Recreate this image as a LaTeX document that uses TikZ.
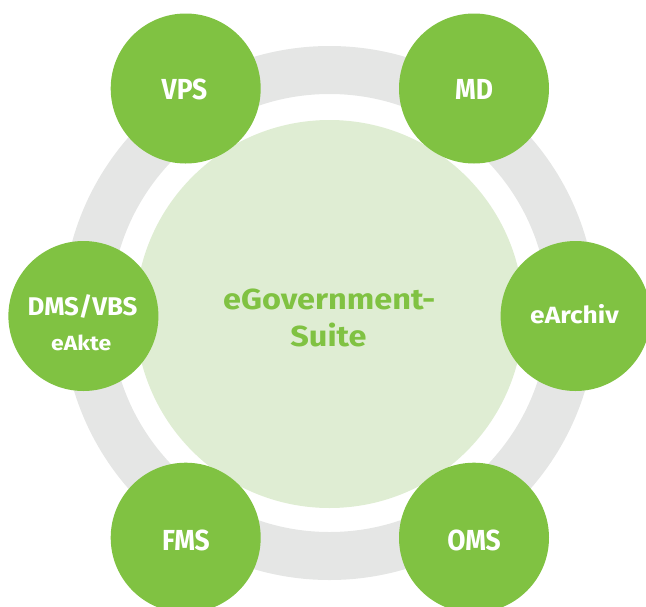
\documentclass[tikz,border=0pt]{standalone}
\usepackage{fontspec}
\setmainfont{Fira Sans}
\newfontfamily\capsfont{Fira Sans}[FakeStretch=0.91]
\newfontfamily\midfont{Fira Sans}[FakeStretch=1.01]
\newfontfamily\widefont{Fira Sans}[FakeStretch=1.12]
\definecolor{egreen}{HTML}{80C242}
\definecolor{elight}{HTML}{DFEDD3}
\definecolor{egray}{HTML}{E5E6E5}
\begin{document}
\begin{tikzpicture}[x=1pt,y=-1pt,
  module/.style={circle,fill=egreen,minimum size=150pt,inner sep=0pt},
  core/.style={circle,fill=elight,minimum size=388pt,inner sep=0pt},
  modtext/.style={anchor=base,inner sep=0pt,text=white,font=\capsfont\bfseries\fontsize{29}{32}\selectfont},
  coretext/.style={anchor=base,inner sep=0pt,text=egreen,font=\widefont\bfseries\fontsize{29}{32}\selectfont}]
\useasboundingbox (0,0) rectangle (646,606);
\coordinate (c) at (329.5,313);
\draw[egray,line width=48pt] (c) circle[radius=243pt];
\node[core] (suite) at (329.5,314) {};
\node[module] (vps) at (185.7,88.5) {};
\node[module] (md) at (474,88.5) {};
\node[module] (dms) at (83.4,316) {};
\node[module] (earchiv) at (575.6,316) {};
\node[module] (fms) at (185.7,537.7) {};
\node[module] (oms) at (474,537.7) {};
\node[coretext] (t1) at (329.3,309.3) {eGovernment-};
\node[coretext] (t2) at (328.5,346) {Suite};
\node[modtext] (tvps) at (184.5,99.3) {VPS};
\node[modtext] (tmd) at (474,99.3) {MD};
\node[modtext] (tfms) at (186,550) {FMS};
\node[modtext] (toms) at (474,550) {OMS};
\node[modtext,font=\midfont\bfseries\fontsize{25.6}{28}\selectfont] (tdms) at (82.5,315) {DMS/VBS};
\node[modtext,font=\widefont\bfseries\fontsize{20.5}{24}\selectfont] (takte) at (81.2,350) {eAkte};
\node[modtext,font=\widefont\bfseries\fontsize{23.5}{26}\selectfont] (tarch) at (574.5,323.3) {eArchiv};
\end{tikzpicture}
\end{document}
